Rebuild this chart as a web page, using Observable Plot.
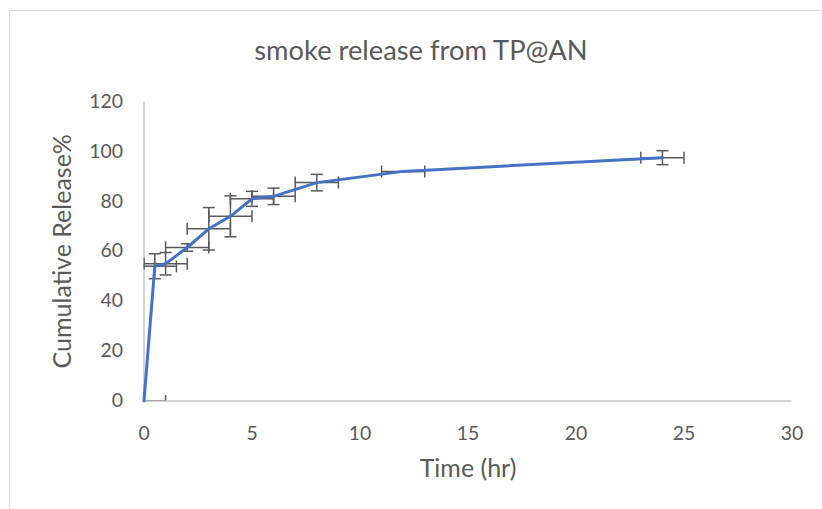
<!DOCTYPE html>
<html>
<head>
<meta charset="utf-8">
<script src="https://cdn.jsdelivr.net/npm/d3@7"></script>
<script src="https://cdn.jsdelivr.net/npm/@observablehq/plot@0.6"></script>
<style>
  html, body { margin: 0; padding: 0; background: #fff; }
  #wrap { position: relative; width: 822px; height: 509px; overflow: hidden; font-family: Lato, sans-serif; }
  #frame { position: absolute; left: 9px; top: 10px; right: -5px; bottom: -5px; border-top: 1.5px solid #d9d9d9; border-left: 1.5px solid #d9d9d9; }
  #title { position: absolute; left: 10px; top: 0; width: 822px; height: 80px; line-height: 100px; text-align: center; font-size: 27.3px; color: #595959; }
  #chart { position: absolute; left: 0; top: 80px; }
</style>
</head>
<body>
<div id="wrap">
  <div id="frame"></div>
  <div id="title">smoke release from TP@AN</div>
  <div id="chart"></div>
</div>
<script>
const chartTitle = "smoke release from TP@AN";
const xLabel = "Time (hr)";
const yLabel = "Cumulative Release%";
const time = [0, 0.5, 1, 2, 3, 4, 5, 6, 8, 12, 24];
const release = [0, 54, 55, 61.5, 69, 74, 81, 82, 87.5, 92, 97.5];
const releaseErr = [0, 5, 4.5, 1.5, 8.5, 8.2, 3, 3.3, 3.3, 0, 2.8];
const timeErr = [1, 1, 1, 1, 1, 1, 1, 1, 1, 1, 1];
const xTicks = [0, 5, 10, 15, 20, 25, 30];
const yTicks = [0, 20, 40, 60, 80, 100, 120];

const data = time.map((t, i) => ({t, v: release[i], ye: releaseErr[i], xe: timeErr[i]}));
const vData = data.filter(d => d.ye > 0);

const capH = {draw(ctx, size) { const r = Math.sqrt(size / Math.PI); ctx.moveTo(-r, 0); ctx.lineTo(r, 0); }};
const capV = {draw(ctx, size) { const r = Math.sqrt(size / Math.PI); ctx.moveTo(0, -r); ctx.lineTo(0, r); }};
const errColor = "#595959";
const axisColor = "#d4d4d4";

const plot = Plot.plot({
  width: 822,
  height: 429,
  marginTop: 21,
  marginBottom: 108.5,
  marginLeft: 143.5,
  marginRight: 30.5,
  style: {fontFamily: "Lato, sans-serif", fontSize: "19.4px", color: "#595959", background: "transparent", overflow: "visible"},
  x: {domain: [0, 30]},
  y: {domain: [0, 120]},
  marks: [
    Plot.ruleY([0], {x1: 0, x2: 30, stroke: axisColor, strokeWidth: 2}),
    Plot.ruleX([0], {y1: 0, y2: 120, stroke: axisColor, strokeWidth: 2}),
    Plot.axisX({ticks: xTicks, tickSize: 0, tickPadding: 25.5, label: null, tickFormat: d3.format("d")}),
    Plot.axisY({ticks: yTicks, tickSize: 0, tickPadding: 21, label: null, tickFormat: d3.format("d")}),
    // vertical error bars
    Plot.ruleX(vData, {x: "t", y1: d => d.v - d.ye, y2: d => d.v + d.ye, stroke: errColor, strokeWidth: 1.5}),
    Plot.dot(vData, {x: "t", y: d => d.v - d.ye, symbol: capH, r: 6, stroke: errColor, fill: "none", strokeWidth: 1.5}),
    Plot.dot(vData, {x: "t", y: d => d.v + d.ye, symbol: capH, r: 6, stroke: errColor, fill: "none", strokeWidth: 1.5}),
    // horizontal error bars
    Plot.ruleY(data, {y: "v", x1: d => d.t - d.xe, x2: d => d.t + d.xe, stroke: errColor, strokeWidth: 1.5, clip: true}),
    Plot.dot(data, {x: d => d.t - d.xe, y: "v", symbol: capV, r: 6, stroke: errColor, fill: "none", strokeWidth: 1.5, clip: true}),
    Plot.dot(data, {x: d => d.t + d.xe, y: "v", symbol: capV, r: 6, stroke: errColor, fill: "none", strokeWidth: 1.5, clip: true}),
    // series line
    Plot.line(data, {x: "t", y: "v", stroke: "#4472C4", strokeWidth: 3, strokeLinejoin: "round", strokeLinecap: "round"}),
    // axis titles
    Plot.text([xLabel], {frameAnchor: "bottom", dy: 68, text: d => d, fontSize: 25, fill: "#595959", textAnchor: "middle", lineAnchor: "middle"}),
    Plot.text([yLabel], {frameAnchor: "left", dx: -81, rotate: -90, text: d => d, fontSize: 25, fill: "#595959", textAnchor: "middle", lineAnchor: "middle"})
  ]
});
document.getElementById("chart").appendChild(plot);
document.getElementById("title").textContent = chartTitle;
</script>
</body>
</html>
